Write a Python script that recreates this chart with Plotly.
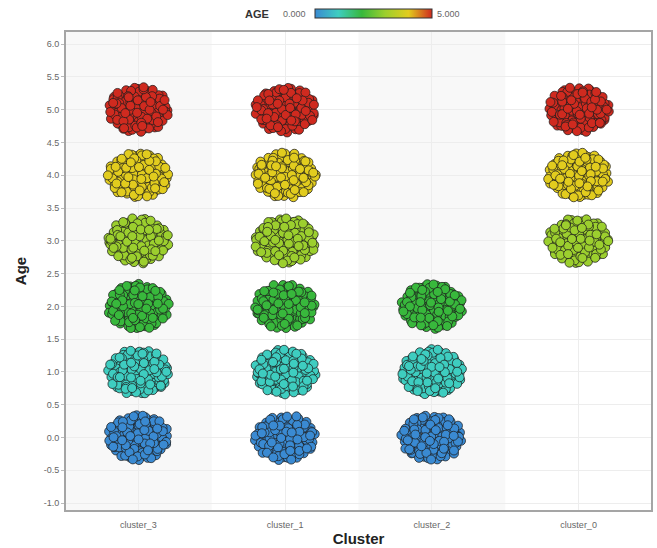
import math
import plotly.graph_objects as go

# ---- data ----
CLUSTERS = ["cluster_3", "cluster_1", "cluster_2", "cluster_0"]
AGES_CLUSTER_3 = [0, 1, 2, 3, 4, 5]
AGES_CLUSTER_1 = [0, 1, 2, 3, 4, 5]
AGES_CLUSTER_2 = [0, 1, 2]
AGES_CLUSTER_0 = [3, 4, 5]
# estimated number of records in each (cluster, age) group
COUNTS_CLUSTER_3 = [130, 125, 130, 115, 120, 115]
COUNTS_CLUSTER_1 = [110, 115, 115, 125, 125, 115]
COUNTS_CLUSTER_2 = [130, 135, 130]
COUNTS_CLUSTER_0 = [110, 130, 125]

Y_TICKS = [-1.0, -0.5, 0.0, 0.5, 1.0, 1.5, 2.0, 2.5, 3.0, 3.5, 4.0, 4.5, 5.0, 5.5, 6.0]

GROUP_AGES = [AGES_CLUSTER_3, AGES_CLUSTER_1, AGES_CLUSTER_2, AGES_CLUSTER_0]
GROUP_COUNTS = [COUNTS_CLUSTER_3, COUNTS_CLUSTER_1, COUNTS_CLUSTER_2, COUNTS_CLUSTER_0]

# ---- deterministic jitter layout (low-discrepancy Halton points in an ellipse) ----
JIT_X = 0.21   # half-width in category units
JIT_Y = 0.35   # half-height in age units


def halton(i, b):
    f, r = 1.0, 0.0
    while i > 0:
        f /= b
        r += f * (i % b)
        i //= b
    return r


xs, ys, cs = [], [], []
start = 1
for ci, (ages, counts) in enumerate(zip(GROUP_AGES, GROUP_COUNTS)):
    for age, n in zip(ages, counts):
        for i in range(n):
            k = start + i
            r = math.sqrt(halton(k, 2)) ** 0.9
            t = 2 * math.pi * halton(k, 3)
            xs.append(ci + r * math.cos(t) * JIT_X)
            ys.append(age + r * math.sin(t) * JIT_Y)
            cs.append(age)
        start += n

COLORSCALE = [
    [0.0, "#3a8ad2"],
    [0.2, "#3ecdc0"],
    [0.4, "#38b83c"],
    [0.6, "#9ccf2e"],
    [0.8, "#e2cc1e"],
    [1.0, "#cf2a1f"],
]

fig = go.Figure()

fig.add_trace(go.Scatter(
    x=xs, y=ys, mode="markers",
    marker=dict(
        size=9, color=cs, cmin=0, cmax=5, colorscale=COLORSCALE,
        line=dict(color="rgba(30,30,30,0.75)", width=1),
        showscale=True,
        colorbar=dict(
            orientation="h", x=0.5256, xanchor="center", y=1.036, yanchor="middle",
            lenmode="pixels", len=117, thickness=9, xpad=0, ypad=0,
            showticklabels=False, ticks="", outlinecolor="#333", outlinewidth=1,
        ),
    ),
    hoverinfo="x+y", showlegend=False,
))

# alternating column bands
shapes = []
for ci in range(len(CLUSTERS)):
    if ci % 2 == 0:
        shapes.append(dict(type="rect", xref="x", yref="paper", x0=ci - 0.5, x1=ci + 0.5,
                           y0=0, y1=1, fillcolor="#f8f8f8", line=dict(width=0), layer="below"))
shapes.append(dict(type="rect", xref="paper", yref="paper", x0=0, x1=1, y0=0, y1=1,
                   line=dict(color="#a5a5a5", width=2), fillcolor="rgba(0,0,0,0)"))

PLOT_L, PLOT_R, PLOT_T, PLOT_B = 65, 652, 31, 511
W, H = 657, 548


def px_x(p):
    return (p - PLOT_L) / (PLOT_R - PLOT_L)


def px_y(p):
    return (PLOT_B - p) / (PLOT_B - PLOT_T)


annotations = [
    dict(text="<b>AGE</b>", x=px_x(257), y=px_y(14), xref="paper", yref="paper",
         xanchor="center", yanchor="middle",
         showarrow=False, font=dict(family="Liberation Sans", size=11, color="#333")),
    dict(text="0.000", x=px_x(294), y=px_y(14), xref="paper", yref="paper",
         xanchor="center", yanchor="middle",
         showarrow=False, font=dict(family="Liberation Sans", size=9, color="#666")),
    dict(text="5.000", x=px_x(448), y=px_y(14), xref="paper", yref="paper",
         xanchor="center", yanchor="middle",
         showarrow=False, font=dict(family="Liberation Sans", size=9, color="#666")),
]

fig.update_layout(
    width=W, height=H,
    margin=dict(l=PLOT_L, r=W - PLOT_R, t=PLOT_T, b=H - PLOT_B),
    paper_bgcolor="white", plot_bgcolor="white",
    shapes=shapes, annotations=annotations,
    xaxis=dict(
        range=[-0.5, 3.5], tickvals=list(range(len(CLUSTERS))), ticktext=CLUSTERS,
        showgrid=True, gridcolor="#ededed", gridwidth=1, zeroline=False,
        tickfont=dict(family="Liberation Sans", size=9, color="#666"),
        ticks="outside", ticklen=5, tickcolor="rgba(0,0,0,0)",
        title=dict(text="<b>Cluster</b>", standoff=4,
                   font=dict(family="Liberation Sans", size=15, color="#222")),
        showline=False,
    ),
    yaxis=dict(
        range=[-1.12, 6.2], tickvals=Y_TICKS, ticktext=[f"{v:.1f}" for v in Y_TICKS],
        showgrid=True, gridcolor="#ededed", gridwidth=1, zeroline=False,
        tickfont=dict(family="Liberation Sans", size=9, color="#666"),
        ticks="outside", ticklen=3, tickcolor="#bbb",
        title=dict(text="<b>Age</b>", standoff=13,
                   font=dict(family="Liberation Sans", size=15, color="#222")),
        showline=False,
    ),
)

fig.write_html("out.html")
